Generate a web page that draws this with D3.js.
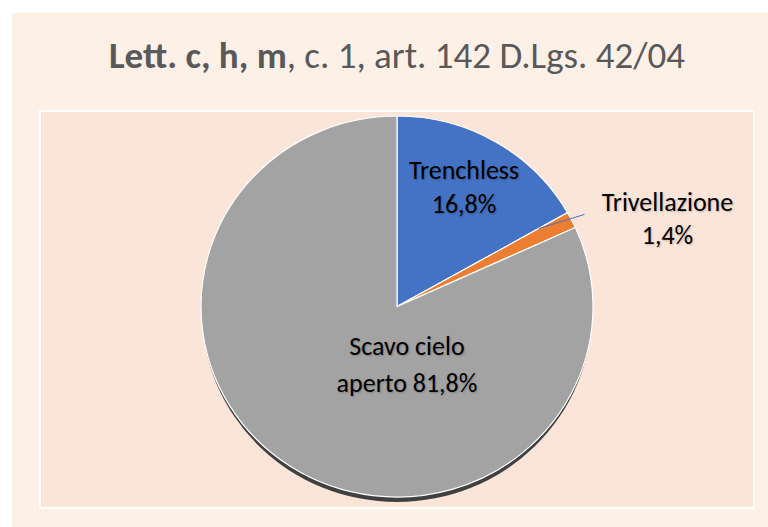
<!DOCTYPE html>
<html lang="it">
<head>
<meta charset="UTF-8">
<title>Lett. c, h, m</title>
<script src="https://cdn.jsdelivr.net/npm/d3@7"></script>
<style>
  body { margin: 0; background: #fff; }
  text { font-family: Carlito, Calibri, Lato, sans-serif; }
</style>
</head>
<body>
<svg width="768" height="527" id="chart"></svg>
<script>
  // data
  const categories = ['Trenchless', 'Trivellazione', 'Scavo cielo aperto'];
  const values = [16.8, 1.4, 81.8];
  const labelLines = [['Trenchless', '16,8%'], ['Trivellazione', '1,4%'], ['Scavo cielo', 'aperto 81,8%']];
  const colors = ['#4472c4', '#ed7d31', '#a3a3a3'];

  const svg = d3.select('#chart');

  // chart card + plot area
  svg.append('rect').attr('x', 12).attr('y', 13).attr('width', 756).attr('height', 514).attr('fill', '#fcf0e7');
  svg.append('rect').attr('x', 40).attr('y', 111).attr('width', 714).attr('height', 397)
    .attr('fill', '#fbe5d8').attr('stroke', '#fff').attr('stroke-width', 2);

  // title
  const title = svg.append('text').attr('x', 397).attr('y', 68).attr('text-anchor', 'middle')
    .attr('font-size', 37).attr('fill', '#595959');
  title.append('tspan').attr('font-weight', 'bold').text('Lett. c, h, m');
  title.append('tspan').text(', c. 1, art. 142 D.Lgs. 42/04');

  const cx = 397, cy = 306.5, r = 196, tilt = 190.5 / 196;

  const pie = d3.pie().sort(null).value(d => d);
  const arcs = pie(values);
  const arc = d3.arc().innerRadius(0).outerRadius(r);

  // 3D side (dark edge under the top face)
  svg.append('ellipse').attr('cx', cx).attr('cy', cy + 5).attr('rx', r - 1).attr('ry', r * tilt)
    .attr('fill', '#404040');

  const g = svg.append('g').attr('transform', `translate(${cx},${cy}) scale(1,${tilt})`);

  g.selectAll('path.slice').data(arcs).join('path')
    .attr('class', 'slice')
    .attr('d', arc)
    .attr('fill', (d, i) => colors[i])
    .attr('stroke', '#fff')
    .attr('stroke-width', 1.2)
    .attr('vector-effect', 'non-scaling-stroke');

  const pt = (a, rad) => [cx + rad * Math.sin(a), cy - rad * Math.cos(a) * tilt];

  // label anchors: inside for the big slices, outside for the thin one
  const midA = d => (d.startAngle + d.endAngle) / 2;
  const labelPos = arcs.map((d, i) => {
    if (i === 0) { const p = pt(midA(d), r * 0.72); return [p[0] - 4, p[1] - 9]; }
    if (i === 1) { const p = pt(midA(d), r * 1.4); return [p[0] + 26, p[1] + 26]; }
    return [cx + 10, cy + r * 0.31 * tilt - 11];
  });
  const lineGap = [34, 33, 37];

  // leader line for the thin slice
  const p0 = pt(arcs[1].startAngle, r * 0.83);
  svg.append('line')
    .attr('x1', p0[0]).attr('y1', p0[1])
    .attr('x2', labelPos[1][0] - 83).attr('y2', labelPos[1][1] + 3)
    .attr('stroke', '#4472c4').attr('stroke-width', 1);

  const labels = svg.selectAll('text.lbl').data(labelLines).join('text')
    .attr('class', 'lbl')
    .attr('text-anchor', 'middle')
    .attr('font-size', 26)
    .attr('fill', '#000')
    .style('text-shadow', '1px 1px 2px rgba(0,0,0,0.22)')
    .attr('x', (d, i) => labelPos[i][0])
    .attr('y', (d, i) => labelPos[i][1]);

  labels.each(function (lines, i) {
    d3.select(this).selectAll('tspan').data(lines).join('tspan')
      .attr('x', labelPos[i][0])
      .attr('dy', (d, j) => j === 0 ? 0 : lineGap[i])
      .text(d => d);
  });
</script>
</body>
</html>
